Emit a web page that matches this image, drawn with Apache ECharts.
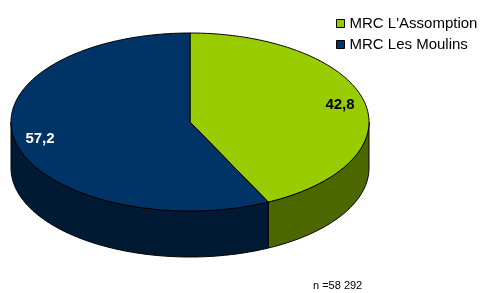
<!DOCTYPE html>
<html>
<head>
<meta charset="utf-8">
<script src="https://cdn.jsdelivr.net/npm/echarts@6/dist/echarts.min.js"></script>
<style>
html,body{margin:0;padding:0;background:#fff;}
#c{width:480px;height:293px;}
</style>
</head>
<body>
<div id="c"></div>
<script>
const categories = ["MRC L'Assomption", "MRC Les Moulins"];
const values = [42.8, 57.2];
const labels = ["42,8", "57,2"];
const noteText = "n =58 292";

const topColors = ['#99CC00', '#003366'];
const sideColors = ['#4C6600', '#001A33'];
const labelColors = ['#000000', '#FFFFFF'];

const chart = echarts.init(document.getElementById('c'), null, {renderer: 'canvas'});

const CX = 190, CY = 122, RX = 179, RY = 89, DEPTH = 46;
const total = values.reduce((a, b) => a + b, 0);

function pt(theta, dy) {
  return [CX + RX * Math.sin(theta), CY - RY * Math.cos(theta) + (dy || 0)];
}
function arc(a0, a1, dy) {
  const n = Math.max(2, Math.ceil(Math.abs(a1 - a0) / 0.02));
  const out = [];
  for (let i = 0; i <= n; i++) out.push(pt(a0 + (a1 - a0) * i / n, dy));
  return out;
}

function makeRender(idx) {
  return function (params, api) {
    let start = 0;
    for (let i = 0; i < idx; i++) start += values[i];
    const a0 = start / total * Math.PI * 2;
    const a1 = (start + values[idx]) / total * Math.PI * 2;
    const children = [];
    const s0 = Math.max(a0, Math.PI / 2), s1 = Math.min(a1, Math.PI * 3 / 2);
    if (s1 > s0) {
      const topArc = arc(s0, s1, 0);
      const botArc = arc(s0, s1, DEPTH).reverse();
      children.push({
        type: 'polygon', z2: 1,
        shape: {points: topArc.concat(botArc)},
        style: {fill: sideColors[idx], stroke: '#000', lineWidth: 1}
      });
    }
    const topPts = [[CX, CY]].concat(arc(a0, a1, 0));
    children.push({
      type: 'polygon', z2: 2,
      shape: {points: topPts},
      style: {fill: topColors[idx], stroke: '#000', lineWidth: 1}
    });
    const mid = (a0 + a1) / 2;
    const lp = [CX + RX * 0.86 * Math.sin(mid), CY - RY * 0.86 * Math.cos(mid)];
    children.push({
      type: 'text', z2: 3,
      x: lp[0], y: lp[1],
      style: {
        text: labels[idx], fill: labelColors[idx],
        font: 'bold 15px "Liberation Sans", Arial, sans-serif',
        align: 'center', verticalAlign: 'middle'
      }
    });
    return {type: 'group', children: children};
  };
}

const series = categories.map((name, i) => ({
  type: 'custom',
  name: name,
  coordinateSystem: 'none',
  z: 2 + i,
  itemStyle: {color: topColors[i], borderColor: '#000', borderWidth: 1},
  data: [values[i]],
  renderItem: makeRender(i),
  animation: false
}));

chart.setOption({
  animation: false,
  legend: {
    data: categories,
    orient: 'vertical',
    left: 331, top: 11,
    itemWidth: 8, itemHeight: 8,
    itemGap: 6,
    icon: 'rect',
    itemStyle: {borderColor: '#000', borderWidth: 1},
    textStyle: {fontFamily: '"Liberation Sans", Arial, sans-serif', fontSize: 15, color: '#000'},
    selectedMode: false
  },
  title: {
    text: noteText,
    left: 313, top: 280,
    padding: 0,
    textStyle: {fontFamily: '"Liberation Sans", Arial, sans-serif', fontSize: 11, fontWeight: 'normal', color: '#000'}
  },
  series: series
});
</script>
</body>
</html>
